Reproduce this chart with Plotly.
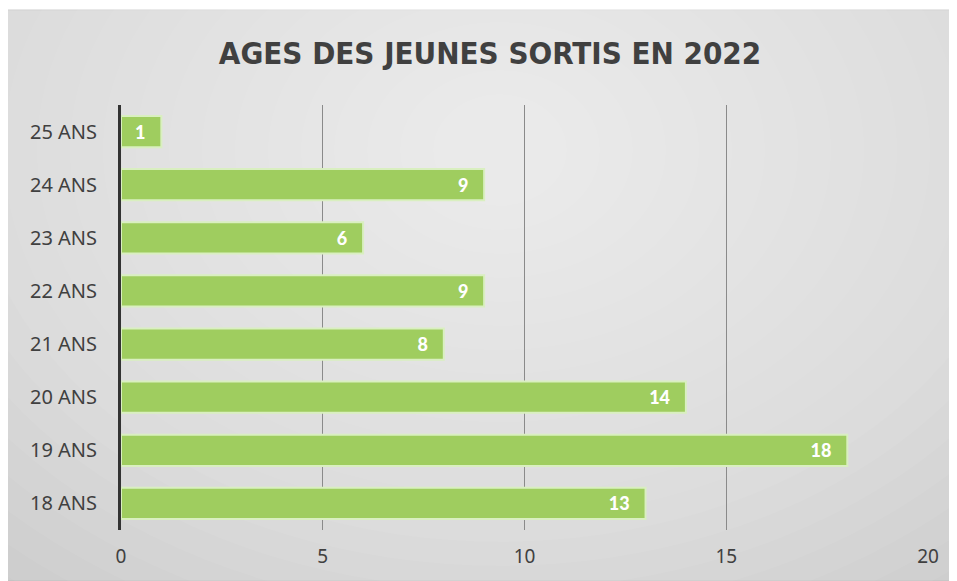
import plotly.graph_objects as go

ages = ['18 ANS', '19 ANS', '20 ANS', '21 ANS', '22 ANS', '23 ANS', '24 ANS', '25 ANS']
counts = [13, 18, 14, 8, 9, 6, 9, 1]
x_ticks = [0, 5, 10, 15, 20]

# the page body adds an 8px offset, so the figure is 8px smaller than the window
OFF = 8
W, H = 957 - OFF, 581 - OFF
L, R, T, B = 121 - OFF, 29, 105 - OFF, 51
pw, ph = W - L - R, H - T - B


def px(x):
    return (x - OFF - L) / pw


def py(y):
    return (H - B - (y - OFF)) / ph


fig = go.Figure()

fig.add_trace(go.Bar(
    y=ages, x=counts, orientation='h',
    marker=dict(color='#9fcd5f', line=dict(color='#d9efc0', width=2)),
    width=0.59,
    texttemplate='%{x}&nbsp;&nbsp;&nbsp;', textposition='inside', insidetextanchor='end',
    textfont=dict(color='white', size=18, family='Lato Black, Lato, sans-serif'),
    cliponaxis=False,
))

# grey card with a soft light centre
shapes = [dict(type='rect', xref='paper', yref='paper', layer='below',
               x0=px(4), x1=px(957), y0=py(581), y1=py(10),
               fillcolor='#cccccc', line=dict(color='#bdbdbd', width=1))]
cx, cy = 500, 150
for i in range(22):
    rx = 760 - i * 33
    ry = 560 - i * 24
    shapes.append(dict(type='circle', xref='paper', yref='paper', layer='below',
                       x0=px(cx - rx), x1=px(cx + rx),
                       y0=py(cy + ry), y1=py(cy - ry),
                       fillcolor='white', opacity=0.055, line=dict(width=0)))

fig.update_layout(
    width=W, height=H,
    margin=dict(l=L, r=R, t=T, b=B, pad=0),
    paper_bgcolor='white',
    plot_bgcolor='rgba(0,0,0,0)',
    shapes=shapes,
    showlegend=False,
    bargap=0.41,
    title=dict(text='<b>AGES DES JEUNES SORTIS EN 2022</b>',
               x=(490 - OFF) / W, xanchor='center', y=1 - (53 - OFF) / H, yanchor='middle',
               font=dict(size=31, color='#404040',
                         family='DejaVu Sans Condensed, DejaVu Sans, sans-serif')),
    xaxis=dict(range=[0, 20], tickvals=x_ticks, showgrid=True,
               gridcolor='#8a8a8a', gridwidth=1, zeroline=False,
               showline=False, ticks='',
               tickfont=dict(size=19, color='#404040', family='Noto Sans, sans-serif'),
               ticklabelstandoff=13),
    yaxis=dict(showgrid=False, showline=True, linecolor='#333333', linewidth=3,
               ticks='', categoryorder='array', categoryarray=ages,
               tickfont=dict(size=20, color='#404040', family='Noto Sans, sans-serif'),
               ticklabelstandoff=17),
)

fig.write_html('out.html')
